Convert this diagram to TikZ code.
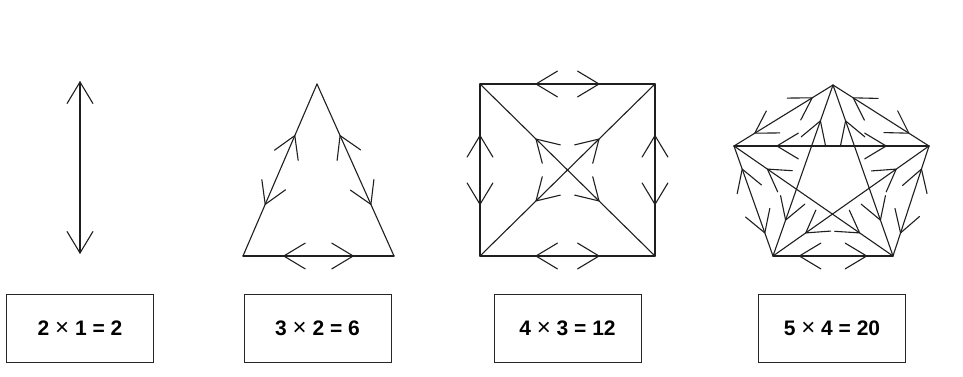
\documentclass[tikz,border=0pt]{standalone}
\usepackage{fontspec}
\setmainfont{Liberation Sans}
\usetikzlibrary{calc}
\tikzset{
  ln/.style={draw=black!88, line width=1.1pt, line cap=round, line join=round},
  lbl/.style={draw=black!85, line width=0.9pt, minimum width=147pt, minimum height=68pt,
     inner sep=0pt, font=\fontsize{21}{24}\selectfont\bfseries}
}
\newcommand\biedge[3]{%
  \draw[ln] (#1) -- (#2);
  \path ($(#1)!#3!(#2)$) coordinate (ta) ($(#2)!#3!(#1)$) coordinate (tb);
  \draw[ln] ($(ta)!25pt!31:(#2)$) -- (ta) -- ($(ta)!25pt!-31:(#2)$);
  \draw[ln] ($(tb)!25pt!31:(#1)$) -- (tb) -- ($(tb)!25pt!-31:(#1)$);
}
\begin{document}
\begin{tikzpicture}[x=1pt,y=-1pt]
\useasboundingbox[fill=white] (0,0) rectangle (963,377);
% figure 1
\coordinate (a1) at (80,82);
\coordinate (a2) at (80,253);
\biedge{a1}{a2}{0}
% figure 2
\coordinate (b1) at (317,84);
\coordinate (b2) at (243,256);
\coordinate (b3) at (394,256);
\biedge{b1}{b2}{0.3}
\biedge{b2}{b3}{0.27}
\biedge{b3}{b1}{0.3}
% figure 3
\coordinate (c1) at (480,84);
\coordinate (c2) at (655,84);
\coordinate (c3) at (655,256);
\coordinate (c4) at (480,256);
\biedge{c1}{c2}{0.32}
\biedge{c2}{c3}{0.3}
\biedge{c3}{c4}{0.32}
\biedge{c4}{c1}{0.3}
\biedge{c1}{c3}{0.32}
\biedge{c2}{c4}{0.32}
% figure 4
\coordinate (d1) at (833,85);
\coordinate (d2) at (929,146);
\coordinate (d3) at (893,256);
\coordinate (d4) at (773,256);
\coordinate (d5) at (734,146);
\biedge{d1}{d2}{0.21}
\biedge{d2}{d3}{0.21}
\biedge{d3}{d4}{0.22}
\biedge{d4}{d5}{0.21}
\biedge{d5}{d1}{0.21}
\biedge{d1}{d3}{0.21}
\biedge{d1}{d4}{0.21}
\biedge{d2}{d4}{0.21}
\biedge{d2}{d5}{0.22}
\biedge{d3}{d5}{0.21}
% labels
\node[lbl] (l1) at (80,328) {2 {\fontsize{24}{24}\selectfont\mdseries ×} 1 = 2};
\node[lbl] (l2) at (317.5,328) {3 {\fontsize{24}{24}\selectfont\mdseries ×} 2 = 6};
\node[lbl] (l3) at (567.5,328) {4 {\fontsize{24}{24}\selectfont\mdseries ×} 3 = 12};
\node[lbl] (l4) at (832,328) {5 {\fontsize{24}{24}\selectfont\mdseries ×} 4 = 20};
\end{tikzpicture}
\end{document}
